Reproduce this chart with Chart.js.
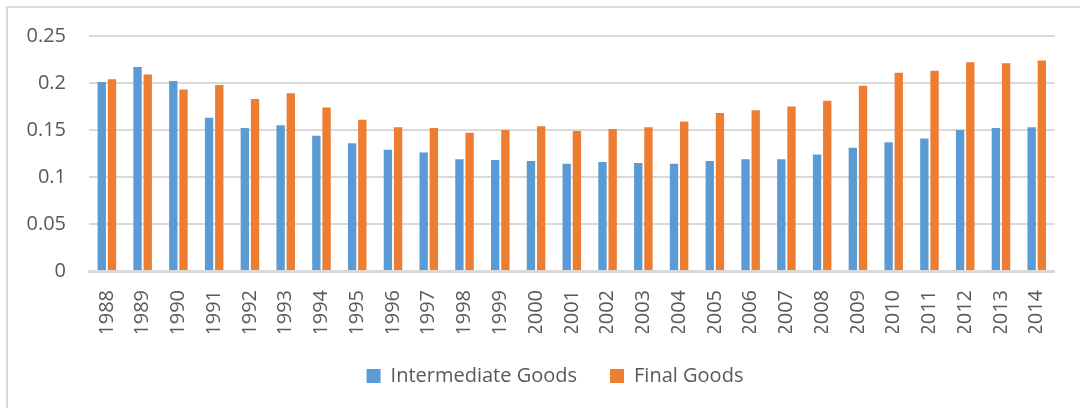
<!DOCTYPE html>
<html>
<head>
<meta charset="utf-8">
<script src="https://cdn.jsdelivr.net/npm/chart.js@4"></script>
<style>
    html, body { margin: 0; padding: 0; background: #fff; overflow: hidden; }
    #wrap { position: absolute; left: 0; top: 0; width: 1080px; height: 396px; }
    #frame { position: absolute; left: 6px; top: 6px; width: 1074px; height: 402px;
             border-top: 2px solid #d9d9d9; border-left: 2px solid #d9d9d9; box-sizing: border-box; }
</style>
</head>
<body>
<div id="frame"></div>
<div id="wrap"><canvas id="chart"></canvas></div>
<script>
    const years = ['1988','1989','1990','1991','1992','1993','1994','1995','1996','1997','1998','1999','2000',
        '2001','2002','2003','2004','2005','2006','2007','2008','2009','2010','2011','2012','2013','2014'];
    const intermediateGoods = [0.201,0.217,0.202,0.163,0.152,0.155,0.144,0.136,0.129,0.126,0.119,0.118,0.117,
        0.114,0.116,0.115,0.114,0.117,0.119,0.119,0.124,0.131,0.137,0.141,0.150,0.152,0.153];
    const finalGoods = [0.204,0.209,0.193,0.198,0.183,0.189,0.174,0.161,0.153,0.152,0.147,0.150,0.154,
        0.149,0.151,0.153,0.159,0.168,0.171,0.175,0.181,0.197,0.211,0.213,0.222,0.221,0.224];
    const yTicks = [0, 0.05, 0.1, 0.15, 0.2, 0.25];

    const textColor = '#595959';
    const gridColor = '#d9d9d9';
    Chart.defaults.font.family = "'Open Sans', sans-serif";

    // nudge the centred legend a little to the right, like the original
    const legendShift = {
        id: 'legendShift',
        afterLayout(chart) {
            chart.legend.left += 22;
            chart.legend.right += 22;
        }
    };

    const ctx = document.getElementById('chart').getContext('2d');
    new Chart(ctx, {
        type: 'bar',
        data: {
            labels: years,
            datasets: [
                { label: 'Intermediate Goods', data: intermediateGoods, backgroundColor: '#5b9bd5',
                  categoryPercentage: 0.57, barPercentage: 0.82 },
                { label: 'Final Goods', data: finalGoods, backgroundColor: '#ed7d31',
                  categoryPercentage: 0.57, barPercentage: 0.82 }
            ]
        },
        options: {
            responsive: true,
            maintainAspectRatio: false,
            animation: false,
            layout: { padding: { left: 0, right: 14, top: 36, bottom: 0 } },
            scales: {
                x: {
                    grid: { display: false, drawTicks: false },
                    border: { display: true, color: gridColor, width: 3 },
                    ticks: { color: textColor, font: { size: 20 }, minRotation: 90, maxRotation: 90,
                             padding: 19, autoSkip: false },
                    afterFit: scale => { scale.height = 62; }
                },
                y: {
                    min: 0,
                    max: 0.25,
                    afterBuildTicks: scale => { scale.ticks = yTicks.map(v => ({ value: v })); },
                    grid: { color: gridColor, lineWidth: 2, drawTicks: false },
                    border: { display: false },
                    ticks: { color: textColor, font: { size: 20 }, padding: 23,
                             callback: v => String(+v.toFixed(2)) },
                    afterFit: scale => { scale.width = 89; }
                }
            },
            plugins: {
                legend: {
                    position: 'bottom',
                    labels: { color: textColor, font: { size: 20 }, boxWidth: 14, boxHeight: 14, padding: 33 }
                },
                tooltip: { enabled: false }
            }
        },
        plugins: [legendShift]
    });
</script>
</body>
</html>
